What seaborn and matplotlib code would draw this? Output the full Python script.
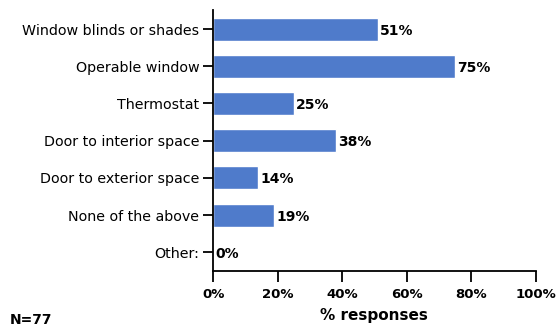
import matplotlib
matplotlib.use("Agg")
import matplotlib.pyplot as plt
import seaborn as sns
import pandas as pd

# Data
categories = [
    "Window blinds or shades",
    "Operable window",
    "Thermostat",
    "Door to interior space",
    "Door to exterior space",
    "None of the above",
    "Other:",
]
percents = [51, 75, 25, 38, 14, 19, 0]
x_ticks = [0, 20, 40, 60, 80, 100]
n_label = "N=77"

df = pd.DataFrame({"category": categories, "pct": percents})

sns.set_style("white")
plt.rcParams["font.family"] = ["DejaVu Sans"]
plt.rcParams["text.color"] = "black"
plt.rcParams["xtick.color"] = "black"
plt.rcParams["ytick.color"] = "black"
plt.rcParams["axes.labelcolor"] = "black"

fig = plt.figure(figsize=(5.58, 3.26), dpi=100)
ax = fig.add_axes([0.382, 0.169, 0.578, 0.799])

sns.barplot(data=df, x="pct", y="category", color="#4f7bcb", saturation=1,
            width=0.62, ax=ax)

ax.set_xlim(0, 100)
ax.set_ylim(6.5, -0.5)
ax.set_xticks(x_ticks)
ax.set_xticklabels([f"{t}%" for t in x_ticks], fontweight="bold", fontsize=9.5)
ax.tick_params(axis="x", bottom=True, length=8, width=1.3, direction="out", pad=4)
ax.tick_params(axis="y", left=True, length=7, width=1.3, direction="out", labelsize=10.3, pad=3)
ax.set_ylabel("")
ax.set_xlabel("% responses", fontweight="bold", fontsize=11, labelpad=5)

for s in ["top", "right"]:
    ax.spines[s].set_visible(False)
for s in ["left", "bottom"]:
    ax.spines[s].set_linewidth(1.3)
    ax.spines[s].set_color("black")

for i, v in enumerate(percents):
    ax.text(v + 0.6, i, f"{v}%", va="center_baseline", ha="left", fontweight="bold", fontsize=10)

fig.text(0.018, 0.005, n_label, fontweight="bold", fontsize=10)

fig.savefig("out.png", dpi=100)
